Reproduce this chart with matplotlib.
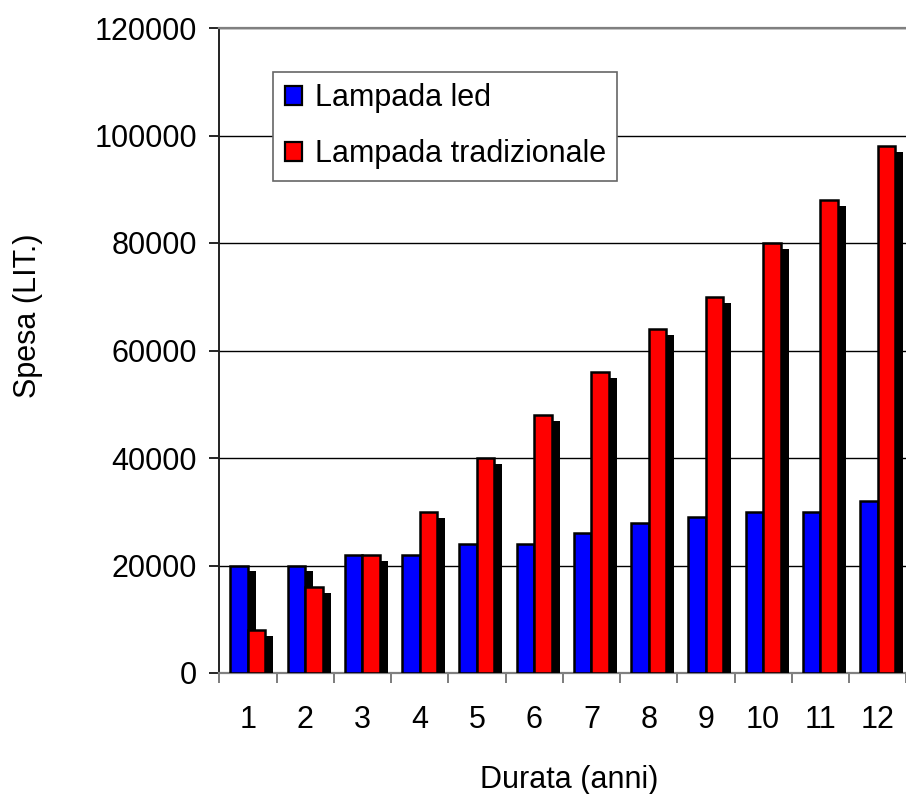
import matplotlib
matplotlib.use('Agg')
import matplotlib.pyplot as plt
import matplotlib.patheffects as pe
from matplotlib.patches import Patch
import numpy as np

plt.rcParams['font.family'] = ['Liberation Sans', 'DejaVu Sans']

anni = [1, 2, 3, 4, 5, 6, 7, 8, 9, 10, 11, 12]
led = [20000, 20000, 22000, 22000, 24000, 24000, 26000, 28000, 29000, 30000, 30000, 32000]
tradizionale = [8000, 16000, 22000, 30000, 40000, 48000, 56000, 64000, 70000, 80000, 88000, 98000]
labels = ['Lampada led', 'Lampada tradizionale']

fig = plt.figure(figsize=(9.06, 7.94), dpi=100)
ax = fig.add_axes([219.3 / 906, 121 / 794, 687 / 906, 645 / 794])

x = np.arange(len(anni)) + 1
w = 0.305
shadow = [pe.SimplePatchShadow(offset=(5.8, -4.3), shadow_rgbFace='black', alpha=1.0), pe.Normal()]

ax.bar(x - w / 2, led, w, color='#0000ff', edgecolor='black', linewidth=1.8,
       path_effects=shadow, zorder=3)
ax.bar(x + w / 2, tradizionale, w, color='#ff0000', edgecolor='black', linewidth=1.8,
       path_effects=shadow, zorder=3)

ax.set_xlim(0.5, 12.5)
ax.set_ylim(0, 120000)
ax.set_yticks(np.arange(0, 120001, 20000))
ax.set_xticks(x)
ax.set_xticklabels([str(a) for a in anni])
ax.set_xticks(np.arange(0.5, 12.6, 1), minor=True)
ax.yaxis.grid(True, color='black', linewidth=1.0, zorder=0)
ax.set_axisbelow(True)

ax.tick_params(axis='x', which='major', length=0, pad=23, labelsize=22)
ax.tick_params(axis='x', which='minor', length=7, width=1.2, color='#666666', direction='out')
ax.tick_params(axis='y', length=7, width=1.2, pad=9, labelsize=22, direction='out')

for s in ['top', 'bottom']:
    ax.spines[s].set_color('#808080')
    ax.spines[s].set_linewidth(1.6)
ax.spines['left'].set_color('#222222')
ax.spines['left'].set_linewidth(1.4)
ax.spines['right'].set_visible(False)

fig.text(28 / 906, 1 - 315.5 / 794, 'Spesa (LIT.)', fontsize=22, rotation=90,
         ha='center', va='center')
fig.text(569 / 906, 1 - 780 / 794, 'Durata (anni)', fontsize=22,
         ha='center', va='center')

handles = [Patch(facecolor='#0000ff', edgecolor='black', linewidth=1.6),
           Patch(facecolor='#ff0000', edgecolor='black', linewidth=1.6)]
leg = ax.legend(handles, labels, loc='upper left', bbox_to_anchor=(0.0786, 0.932),
                borderaxespad=0, fontsize=22, handlelength=0.55, handleheight=0.55,
                handletextpad=0.42, labelspacing=0.85, borderpad=0.38,
                fancybox=False, framealpha=1, edgecolor='#666666')
leg.get_frame().set_linewidth(1.2)
leg.set_zorder(5)

fig.savefig('out.png', dpi=100)
